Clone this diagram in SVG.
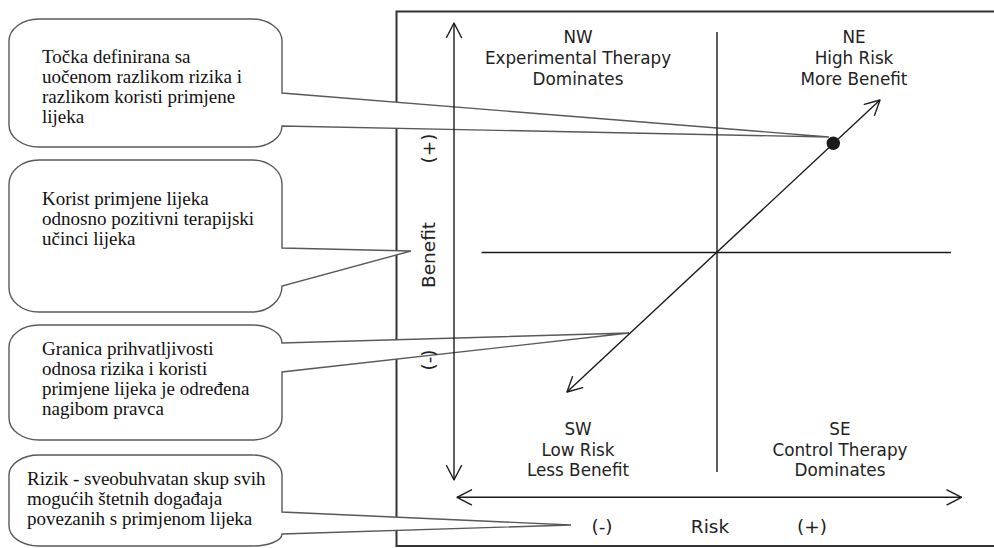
<svg xmlns="http://www.w3.org/2000/svg" width="994" height="548" viewBox="0 0 994 548">
<style>
.frame{fill:#fff;stroke:#333;stroke-width:2}
.callout{fill:#fff;stroke:#595959;stroke-width:1.4;stroke-linejoin:miter}
.ct{font-family:"Liberation Serif","Times New Roman",serif;font-size:19px;fill:#111}
.ax{fill:none;stroke:#1a1a1a;stroke-width:1.4}
.q{font-family:"DejaVu Sans",Verdana,sans-serif;font-size:16.8px;fill:#222;text-anchor:middle}
.al{font-family:"DejaVu Sans",Verdana,sans-serif;font-size:18.5px;fill:#222;text-anchor:middle}
</style>
<defs>
<marker id="arr" markerUnits="userSpaceOnUse" markerWidth="24" markerHeight="24" viewBox="-18 -12 24 24" refX="0" refY="0" orient="auto-start-reverse">
<path d="M-14.5,-7.5 L0,0 L-14.5,7.5" fill="none" stroke="#1a1a1a" stroke-width="1.4" stroke-linejoin="round" stroke-linecap="round"/>
</marker>
</defs>
<rect width="994" height="548" fill="#fff"/>
<g id="frame"><rect class="frame" x="396.5" y="11.5" width="600" height="534.5"/></g>

<g id="callout-tocka">
<path class="callout" d="M39,19 H252 A30 22 0 0 1 282,41 V93 L829,137 L282,126 A30 21 0 0 1 252,147 H39 A30 22 0 0 1 9,125 V41 A30 22 0 0 1 39,19 Z"/>
<text class="ct" x="42" y="63">Točka definirana sa</text>
<text class="ct" x="42" y="83">uočenom razlikom rizika i</text>
<text class="ct" x="42" y="103">razlikom koristi primjene</text>
<text class="ct" x="42" y="123">lijeka</text>
</g>

<g id="callout-korist">
<path class="callout" d="M39,160 H252 A30 24 0 0 1 282,184 V248 L411,251 L282,286 A30 26 0 0 1 252,312 H39 A30 24 0 0 1 9,288 V184 A30 24 0 0 1 39,160 Z"/>
<text class="ct" x="42" y="205">Korist primjene lijeka</text>
<text class="ct" x="42" y="225">odnosno pozitivni terapijski</text>
<text class="ct" x="42" y="245">učinci lijeka</text>
</g>

<g id="callout-granica">
<path class="callout" d="M39,325 H252 A30 18 0 0 1 282,343 L629,333 L282,372 V418 A30 22 0 0 1 252,440 H39 A30 22 0 0 1 9,418 V347 A30 22 0 0 1 39,325 Z"/>
<text class="ct" x="42" y="355">Granica prihvatljivosti</text>
<text class="ct" x="42" y="375">odnosa rizika i koristi</text>
<text class="ct" x="42" y="395">primjene lijeka je određena</text>
<text class="ct" x="42" y="415">nagibom pravca</text>
</g>

<g id="callout-rizik">
<path class="callout" d="M39,455 H252 A30 20 0 0 1 282,475 V512 L571,525 L282,534 A30 12 0 0 1 252,546 H39 A30 20 0 0 1 9,526 V475 A30 20 0 0 1 39,455 Z"/>
<text class="ct" x="27" y="485">Rizik - sveobuhvatan skup svih</text>
<text class="ct" x="27" y="505">mogućih štetnih događaja</text>
<text class="ct" x="27" y="525">povezanih s primjenom lijeka</text>
</g>

<g id="connectors">
<line class="ax" x1="454" y1="23" x2="454" y2="480" marker-start="url(#arr)" marker-end="url(#arr)"/>
<line class="ax" x1="457" y1="497.3" x2="961.5" y2="497.3" marker-start="url(#arr)" marker-end="url(#arr)"/>
<line class="ax" x1="481.5" y1="252.5" x2="951" y2="252.5"/>
<line class="ax" x1="717" y1="32" x2="717" y2="472"/>
<line class="ax" x1="567" y1="392" x2="880" y2="100" marker-start="url(#arr)" marker-end="url(#arr)"/>
</g>

<g id="point"><circle cx="833.3" cy="143.3" r="6.7" fill="#1a1a1a"/></g>

<g id="quadrant-nw">
<text class="q" x="578" y="43">NW</text>
<text class="q" x="578" y="64">Experimental Therapy</text>
<text class="q" x="578" y="85">Dominates</text>
</g>
<g id="quadrant-ne">
<text class="q" x="854" y="43">NE</text>
<text class="q" x="854" y="64">High Risk</text>
<text class="q" x="854" y="85">More Benefit</text>
</g>
<g id="quadrant-sw">
<text class="q" x="578" y="435">SW</text>
<text class="q" x="578" y="455.5">Low Risk</text>
<text class="q" x="578" y="476">Less Benefit</text>
</g>
<g id="quadrant-se">
<text class="q" x="840" y="435">SE</text>
<text class="q" x="840" y="455.5">Control Therapy</text>
<text class="q" x="840" y="476">Dominates</text>
</g>

<g id="axis-labels">
<text class="al" x="602" y="532.5">(-)</text>
<text class="al" x="710" y="532.5">Risk</text>
<text class="al" x="812" y="532.5">(+)</text>
<text class="al" transform="translate(435,148.5) rotate(-90)">(+)</text>
<text class="al" transform="translate(435,255) rotate(-90)">Benefit</text>
<text class="al" transform="translate(435,360) rotate(-90)">(-)</text>
</g>
</svg>
